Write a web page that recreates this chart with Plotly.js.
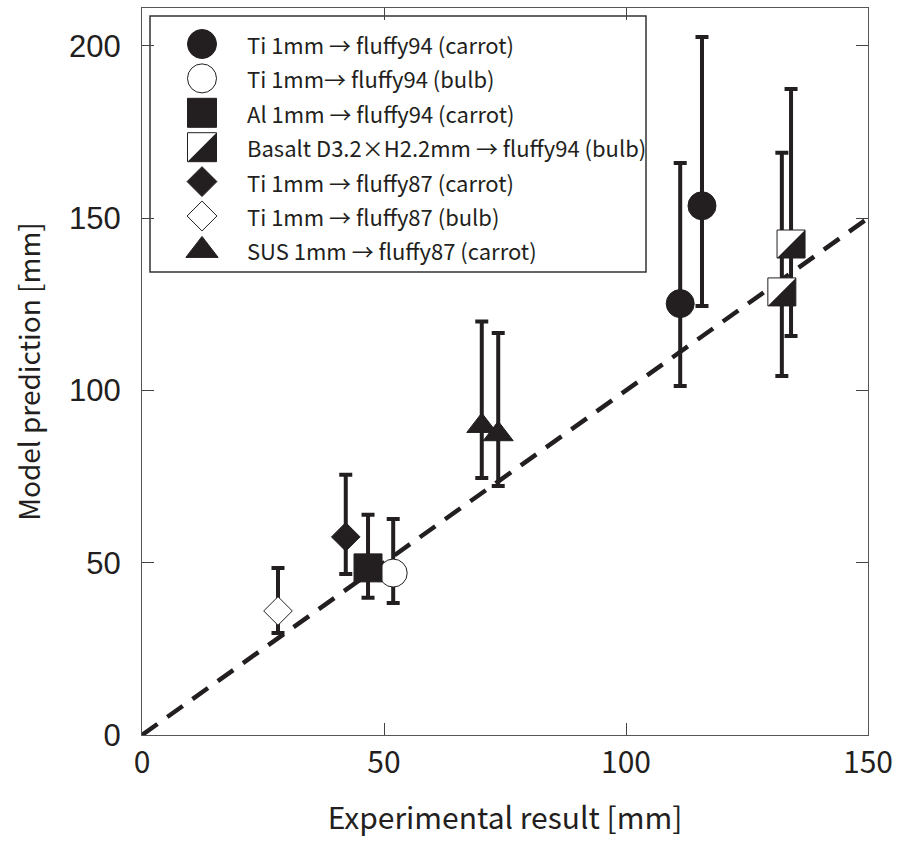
<!DOCTYPE html>
<html>
<head>
<meta charset="utf-8">
<script src="https://cdn.plot.ly/plotly-3.0.1.min.js"></script>
<style>
html,body{margin:0;padding:0;background:#fff;}
#chart{width:900px;height:844px;}
</style>
</head>
<body>
<div id="chart"></div>
<script>
// ---------------- DATA ----------------
const seriesLabels = [
  'Ti 1mm → fluffy94 (carrot)',
  'Ti 1mm→ fluffy94 (bulb)',
  'Al 1mm → fluffy94 (carrot)',
  'Basalt D3.2×H2.2mm → fluffy94 (bulb)',
  'Ti 1mm → fluffy87 (carrot)',
  'Ti 1mm → fluffy87 (bulb)',
  'SUS 1mm → fluffy87 (carrot)'
];

// Ti 1mm -> fluffy94 (carrot)
const ti94CarrotX    = [111.2, 115.7];
const ti94CarrotY    = [125.2, 153.6];
const ti94CarrotHigh = [166.0, 202.6];
const ti94CarrotLow  = [101.3, 124.5];

// Ti 1mm -> fluffy94 (bulb)
const ti94BulbX    = [51.9];
const ti94BulbY    = [47.0];
const ti94BulbHigh = [62.7];
const ti94BulbLow  = [38.3];

// Al 1mm -> fluffy94 (carrot)
const al94CarrotX    = [46.7];
const al94CarrotY    = [48.5];
const al94CarrotHigh = [63.9];
const al94CarrotLow  = [39.8];

// Basalt D3.2xH2.2mm -> fluffy94 (bulb)
const basalt94BulbX    = [134.1, 132.2];
const basalt94BulbY    = [142.5, 128.6];
const basalt94BulbHigh = [187.5, 169.0];
const basalt94BulbLow  = [115.8, 104.2];

// Ti 1mm -> fluffy87 (carrot)
const ti87CarrotX    = [42.1];
const ti87CarrotY    = [57.5];
const ti87CarrotHigh = [75.5];
const ti87CarrotLow  = [46.7];

// Ti 1mm -> fluffy87 (bulb)
const ti87BulbX    = [28.1];
const ti87BulbY    = [36.0];
const ti87BulbHigh = [48.5];
const ti87BulbLow  = [29.6];

// SUS 1mm -> fluffy87 (carrot)
const sus87CarrotX    = [70.2, 73.6];
const sus87CarrotY    = [89.7, 87.3];
const sus87CarrotHigh = [120.0, 116.7];
const sus87CarrotLow  = [74.6, 72.3];

// 1:1 reference line (model = experiment)
const refLineX = [0, 150];

const xTickVals = [0, 50, 100, 150];
const yTickVals = [0, 50, 100, 150, 200];

// ---------------- LAYOUT / STYLE CONSTANTS ----------------
const INK = '#231f20';
const MARGIN = {l: 142, r: 32, t: 8, b: 109};
const W = 900, H = 844;
const PLOT_W = W - MARGIN.l - MARGIN.r;
const PLOT_H = H - MARGIN.t - MARGIN.b;
const X_RANGE = [0, 150];
const Y_RANGE = [0, 211];
const CJK = '"Noto Sans CJK JP", "Noto Sans", sans-serif';

const SQ = 28;               // square side (px)
const TRI_SE = SQ / 1.8 * 2; // triangle-se size so its legs equal the square side
const pxX = (X_RANGE[1] - X_RANGE[0]) / PLOT_W;
const pxY = (Y_RANGE[1] - Y_RANGE[0]) / PLOT_H;
const halfOff = SQ / 6;      // centroid offset of the lower-right half triangle

const styles = [
  {symbol: 'circle',       size: 28, color: INK,    line: INK},
  {symbol: 'circle',       size: 28, color: '#fff', line: INK},
  {symbol: 'square',       size: SQ, color: INK,    line: INK},
  {symbol: 'square',       size: SQ, color: '#fff', line: INK, half: true},
  {symbol: 'diamond',      size: 22, color: INK,    line: INK},
  {symbol: 'diamond',      size: 22, color: '#fff', line: INK},
  {symbol: 'triangle-up',  size: 26, color: INK,    line: INK}
];
const legendSizes = [29, 29, 29, 29, 23, 23, 28];

const series = [
  [ti94CarrotX, ti94CarrotY, ti94CarrotHigh, ti94CarrotLow],
  [ti94BulbX, ti94BulbY, ti94BulbHigh, ti94BulbLow],
  [al94CarrotX, al94CarrotY, al94CarrotHigh, al94CarrotLow],
  [basalt94BulbX, basalt94BulbY, basalt94BulbHigh, basalt94BulbLow],
  [ti87CarrotX, ti87CarrotY, ti87CarrotHigh, ti87CarrotLow],
  [ti87BulbX, ti87BulbY, ti87BulbHigh, ti87BulbLow],
  [sus87CarrotX, sus87CarrotY, sus87CarrotHigh, sus87CarrotLow]
];

const traces = [];

// dashed 1:1 line
traces.push({
  x: refLineX, y: refLineX.slice(), mode: 'lines', type: 'scatter',
  line: {color: INK, width: 4.5, dash: '19px,12px'},
  showlegend: false, hoverinfo: 'skip'
});

series.forEach(function (s, i) {
  const st = styles[i];
  const xs = s[0], ys = s[1], hi = s[2], lo = s[3];
  traces.push({
    x: xs, y: ys, type: 'scatter', mode: 'markers', name: seriesLabels[i],
    showlegend: false,
    marker: {symbol: st.symbol, size: st.size, color: st.color,
             line: {color: st.line, width: 1}},
    error_y: {
      type: 'data', symmetric: false,
      array: ys.map((v, k) => hi[k] - v),
      arrayminus: ys.map((v, k) => v - lo[k]),
      color: INK, thickness: 4, width: 6.5
    }
  });
  if (st.half) {
    traces.push({
      x: xs.map(v => v + halfOff * pxX),
      y: ys.map(v => v - halfOff * pxY),
      type: 'scatter', mode: 'markers', showlegend: false, hoverinfo: 'skip',
      marker: {symbol: 'triangle-se', size: TRI_SE, color: INK, line: {width: 0}}
    });
  }
});

// ---------------- custom legend (pixel coordinates inside the plot area) ----------------
const LEG_MARK_X = 60, LEG_TEXT_X = 103, LEG_ROW0 = 36, LEG_ROW_STEP = 34.4;
const legendRowsY = seriesLabels.map((_, i) => LEG_ROW0 + i * LEG_ROW_STEP);
const annotations = [];

seriesLabels.forEach(function (lab, i) {
  const st = styles[i];
  const sz = legendSizes[i];
  traces.push({
    x: [LEG_MARK_X], y: [legendRowsY[i]], xaxis: 'x2', yaxis: 'y2',
    type: 'scatter', mode: 'markers', showlegend: false, hoverinfo: 'skip',
    marker: {symbol: st.symbol, size: sz, color: st.color, line: {color: st.line, width: 1}}
  });
  if (st.half) {
    traces.push({
      x: [LEG_MARK_X + sz / 6], y: [legendRowsY[i] + sz / 6], xaxis: 'x2', yaxis: 'y2',
      type: 'scatter', mode: 'markers', showlegend: false, hoverinfo: 'skip',
      marker: {symbol: 'triangle-se', size: sz / 1.8 * 2, color: INK, line: {width: 0}}
    });
  }
  annotations.push({
    xref: 'x2', yref: 'y2', x: LEG_TEXT_X, y: legendRowsY[i],
    xanchor: 'left', yanchor: 'middle', showarrow: false, text: lab,
    font: {family: CJK, size: 22, color: INK}
  });
});

const layout = {
  width: W, height: H,
  margin: MARGIN,
  paper_bgcolor: '#fff', plot_bgcolor: '#fff',
  showlegend: false, hovermode: false,
  xaxis: {
    range: X_RANGE, tickvals: xTickVals, ticktext: xTickVals.map(String),
    ticks: 'inside', ticklen: 12, tickwidth: 1, tickcolor: '#444',
    showline: true, linecolor: '#555', linewidth: 1, mirror: 'ticks',
    showgrid: false, zeroline: false,
    tickfont: {family: CJK, size: 30, color: INK},
    ticklabelstandoff: 1,
    title: {text: 'Experimental result [mm]', font: {family: CJK, size: 30, color: INK}, standoff: 26}
  },
  yaxis: {
    range: Y_RANGE, tickvals: yTickVals, ticktext: yTickVals.map(String),
    ticks: 'inside', ticklen: 12, tickwidth: 1, tickcolor: '#444',
    showline: true, linecolor: '#555', linewidth: 1, mirror: 'ticks',
    showgrid: false, zeroline: false,
    tickfont: {family: '"Liberation Sans", Arial, sans-serif', size: 31, color: INK},
    ticklabelstandoff: 14,
    title: {text: 'Model prediction [mm]', font: {family: CJK, size: 28, color: INK}, standoff: 20}
  },
  xaxis2: {overlaying: 'x', anchor: 'y2', range: [0, PLOT_W], visible: false, fixedrange: true},
  yaxis2: {overlaying: 'y', anchor: 'x2', range: [PLOT_H, 0], visible: false, fixedrange: true},
  shapes: [{
    type: 'rect', xref: 'x2', yref: 'y2', x0: 8, y0: 8, x1: 504, y1: 264,
    line: {color: '#333', width: 1.5}, fillcolor: 'rgba(0,0,0,0)', layer: 'below'
  }],
  annotations: annotations
};

Plotly.newPlot('chart', traces, layout, {staticPlot: true, displayModeBar: false});
</script>
</body>
</html>
